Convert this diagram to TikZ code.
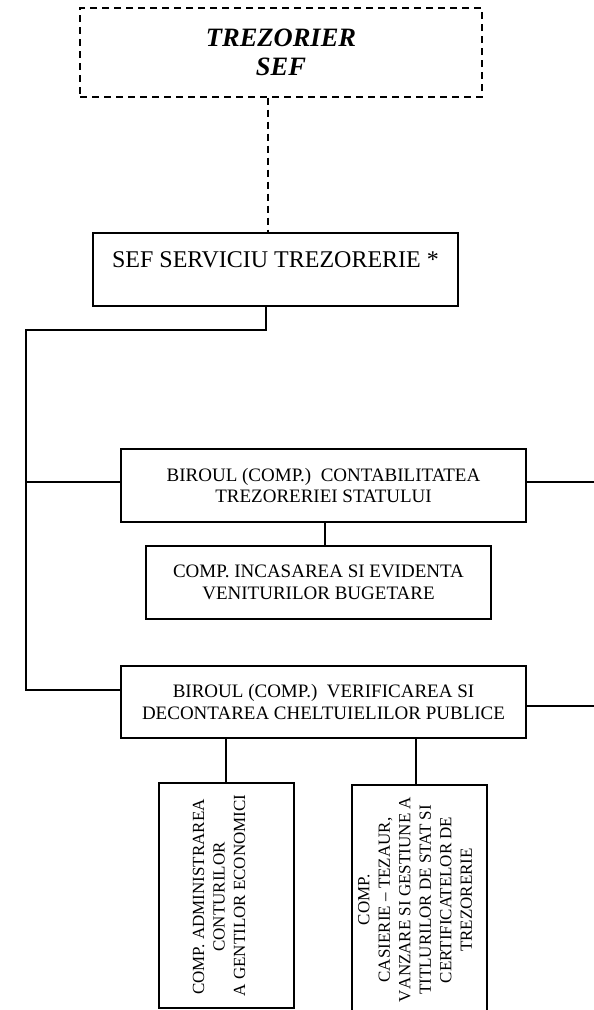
\documentclass[tikz,border=0pt]{standalone}
\usepackage{fontspec}
\setmainfont{Liberation Serif}
\begin{document}
\begin{tikzpicture}[x=1pt,y=-1pt,
  link/.style={line width=1.2pt},
  dashedlink/.style={line width=1.2pt,dash pattern=on 7pt off 5pt},
  box/.style={draw,line width=1.2pt,inner sep=0pt,align=center,font=\fontsize{19}{21.5}\selectfont},
  vbox/.style={draw,line width=1.2pt,inner sep=0pt},
  vtext/.style={rotate=90,inner sep=0pt,align=center,font=\fontsize{17}{20.5}\selectfont}]
\useasboundingbox (0,0) rectangle (594,1010);
\clip (0,0) rectangle (594,1010);

\node[draw,dashedlink,minimum width=402pt,minimum height=89pt,inner sep=0pt,align=center,
      font=\fontsize{26.5}{29}\selectfont\bfseries\itshape] (chief) at (281,52.5) {TREZORIER\\SEF};

\node[draw,line width=1.2pt,minimum width=365pt,inner sep=0pt,text height=34pt,text depth=39pt,
      font=\fontsize{24}{27}\selectfont] (sef) at (275.5,269.5) {SEF SERVICIU TREZORERIE *};

\node[box,minimum width=405pt,minimum height=73pt] (b1) at (323.5,485.5)
  {BIROUL (COMP.)\ \ CONTABILITATEA\\TREZORERIEI STATULUI};
\node[box,minimum width=345pt,minimum height=73pt] (b2) at (318.5,582.5)
  {COMP. INCASAREA SI EVIDENTA\\VENITURILOR BUGETARE};
\node[box,minimum width=405pt,minimum height=72pt] (b3) at (323.5,702)
  {BIROUL (COMP.)\ \ VERIFICAREA SI\\DECONTAREA CHELTUIELILOR PUBLICE};

\node[vbox,minimum width=135pt,minimum height=225pt] (b4) at (226.5,895.5) {};
\node[vtext] (b4t) at (219,897) {COMP. ADMINISTRAREA\\CONTURILOR\\
  \makebox[198pt][s]{A\hspace{4pt plus 1fil}GENTILOR\hspace{4pt plus 1fil}ECONOMICI}};
\node[vbox,minimum width=135pt,minimum height=245pt] (b5) at (419.5,907.5) {};
\node[vtext] (b5t) at (415,900) {COMP.\\CASIERIE -- TEZAUR,\\V\hspace{1.5pt}ANZARE SI GESTIUNE A\\TITLURILOR DE STAT SI\\CERTIFICATELOR DE\\TREZORERIE};

\coordinate (dl) at (268,0);
\draw[dashedlink] (chief.south -| dl) -- (sef.north -| dl);

\coordinate (sl) at (266,0);
\coordinate (busTop) at (26,330);
\coordinate (busBot) at (26,690);
\coordinate (j1) at (26,482);
\draw[link] (sef.south -| sl) |- (busTop) -- (busBot) -- (busBot -| b3.west);
\draw[link] (j1) -- (j1 -| b1.west);

\coordinate (r1) at (594,482);
\coordinate (r3) at (594,706);
\draw[link] (b1.east |- r1) -- (r1);
\draw[link] (b3.east |- r3) -- (r3);

\coordinate (c12) at (325,0);
\draw[link] (b1.south -| c12) -- (b2.north -| c12);
\coordinate (c4) at (226,0);
\coordinate (c5) at (416,0);
\draw[link] (b3.south -| c4) -- (b4.north -| c4);
\draw[link] (b3.south -| c5) -- (b5.north -| c5);
\end{tikzpicture}
\end{document}
